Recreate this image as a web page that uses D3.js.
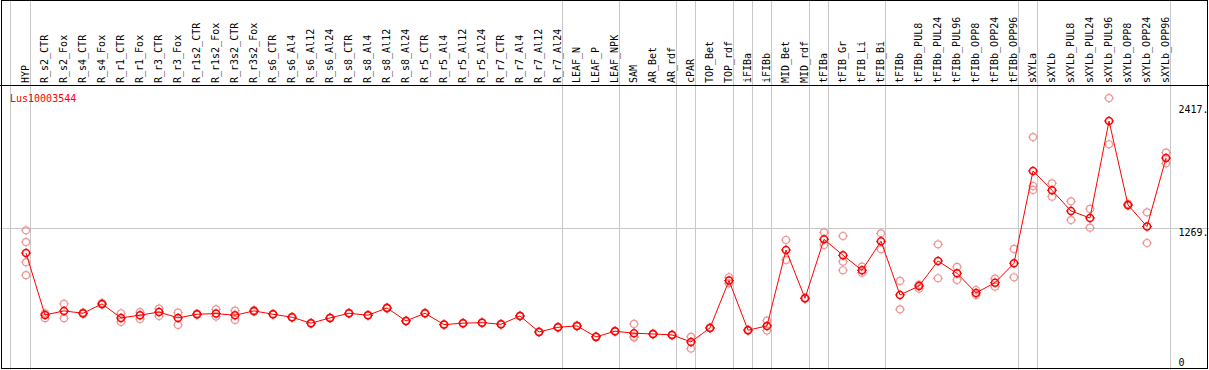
<!DOCTYPE html>
<html>
<head>
<meta charset="utf-8">
<script src="https://cdnjs.cloudflare.com/ajax/libs/d3/7.8.5/d3.min.js"></script>
<style>
body { margin: 0; background: #fff; }
svg { display: block; }
text { font-family: "DejaVu Sans Mono", monospace; font-size: 10px; }
</style>
</head>
<body>
<div id="graphic"></div>
<script>
const geneName = "Lus10003544";

const samples = ["HYP","R_s2_CTR","R_s2_Fox","R_s4_CTR","R_s4_Fox","R_r1_CTR","R_r1_Fox","R_r3_CTR","R_r3_Fox",
    "R_r1s2_CTR","R_r1s2_Fox","R_r3s2_CTR","R_r3s2_Fox","R_s6_CTR","R_s6_Al4","R_s6_Al12","R_s6_Al24",
    "R_s8_CTR","R_s8_Al4","R_s8_Al12","R_s8_Al24","R_r5_CTR","R_r5_Al4","R_r5_Al12","R_r5_Al24",
    "R_r7_CTR","R_r7_Al4","R_r7_Al12","R_r7_Al24","LEAF_N","LEAF_P","LEAF_NPK","SAM","AR_Bet","AR_rdf",
    "cPAR","TOP_Bet","TOP_rdf","iFIBa","iFIBb","MID_Bet","MID_rdf","tFIBa","tFIB_Gr","tFIB_Li","tFIB_Bi",
    "tFIBb","tFIBb_PUL8","tFIBb_PUL24","tFIBb_PUL96","tFIBb_OPP8","tFIBb_OPP24","tFIBb_OPP96",
    "sXYLa","sXYLb","sXYLb_PUL8","sXYLb_PUL24","sXYLb_PUL96","sXYLb_OPP8","sXYLb_OPP24","sXYLb_OPP96"];

// group ends (a grey rule is drawn after these)
const groupEnds = ["HYP","R_r7_Al24","LEAF_NPK","AR_rdf","cPAR","TOP_rdf","iFIBa","iFIBb","MID_rdf",
    "tFIBa","tFIB_Bi","tFIBb_OPP96","sXYLa","sXYLb_OPP96"];

const means = [1039,464,502,480,567,437,462,492,437,471,477,462,502,471,443,388,437,480,462,529,409,
    480,375,388,393,378,455,307,350,363,261,313,295,288,279,214,344,783,323,363,1067,619,
    1166,1018,879,1148,650,733,965,851,669,764,944,1800,1621,1429,1364,2264,1485,1284,1920];

const replicates = [
    [1250,1141,953,833],[480,434],[567,434],[474,486],[575,560],[480,400],[490,427],[523,455],[486,372],
    [466,476],[517,449],[505,418],[510,495],[468,474],[440,446],[385,391],[434,440],
    [477,483],[459,465],[524,534],[406,412],[477,483],[372,378],[385,391],[390,396],
    [375,381],[452,458],[304,310],[347,353],[360,366],[258,264],[310,316],[381,261,255],[285,291],[276,282],
    [261,152],[341,347],[814,758],[320,326],[412,319],[1160,975],[615,623],
    [1231,1114],[1197,959,879],[912,857],[1222,1074],[780,517],[745,708],[1120,805],[910,789],[696,650],[801,727],[1077,814],
    [2115,1661,1624],[1686,1562],[1519,1345],[1448,1274],[2477,2048],[1495,1478],[1417,1132],[1970,1871]];

const tickValues = [0, 1269, 2417];
const tickLabels = ["0", "1269.", "2417."];
const gridTicks = [1269];

const W = 1209, H = 370;
const HEADER_H = 85.5;
const COL_W = 19;
const MARK_R = 3.5;
const MEAN_COLOR = "#ff0000";
const REP_COLOR = "#ee9595";
const GRID_COLOR = "#c8c8c8";

var svg = d3.select("#graphic").append("svg")
    .attr("width", W)
    .attr("height", H)

var x = d3.scaleBand()
    .domain(samples)
    .range([11.5, 11.5 + COL_W * samples.length])

var y = d3.scaleLinear()
    .domain([0, 2417])
    .range([365, 104.5])

function px(d){ return x(d) + 14.5 }

function drawGrid(){
    var seps = [x(samples[0]) - 1].concat(groupEnds.map(d => x(d) + x.step()))
    svg.append("g").attr("class", "vgrid")
        .selectAll("line")
        .data(seps)
        .join("line")
        .attr("x1", d => d).attr("x2", d => d)
        .attr("y1", 0).attr("y2", H)
        .attr("stroke", GRID_COLOR)

    svg.append("g").attr("class", "hgrid")
        .selectAll("line")
        .data(gridTicks)
        .join("line")
        .attr("x1", 0).attr("x2", W)
        .attr("y1", d => Math.round(y(d)) + .5)
        .attr("y2", d => Math.round(y(d)) + .5)
        .attr("stroke", GRID_COLOR)
}

function drawHeader(){
    svg.append("g").attr("class", "labels")
        .selectAll("text")
        .data(samples)
        .join("text")
        .attr("transform", d => `translate(${px(d) + 2.5},83) rotate(-90)`)
        .text(d => d)

    svg.append("text")
        .attr("x", 10)
        .attr("y", 102)
        .attr("fill", MEAN_COLOR)
        .text(geneName)
}

function drawAxis(){
    var clip = svg.append("clipPath").attr("id", "axclip")
    clip.append("rect").attr("x", 0).attr("y", 0).attr("width", 1207).attr("height", H)

    svg.append("g").attr("class", "y axis")
        .attr("clip-path", "url(#axclip)")
        .selectAll("text")
        .data(tickValues)
        .join("text")
        .attr("x", 1178.5)
        .attr("y", d => Math.min(y(d) + 8, 365.5))
        .text((d,i) => tickLabels[i])
}

function marker(g, color, sw){
    g.append("circle")
        .attr("r", MARK_R)
        .attr("fill", "none")
        .attr("stroke", color)
        .attr("stroke-width", sw)
    g.append("path")
        .attr("d", "M0,-5V-3.5M0,3.5V5M-5,0H-3.5M3.5,0H5")
        .attr("stroke", color)
        .attr("stroke-width", 1)
}

function drawData(){
    var reps = []
    samples.forEach((s,i) => replicates[i].forEach(v => reps.push({s: s, v: v})))

    svg.append("g").attr("class", "reps")
        .selectAll("g")
        .data(reps)
        .join("g")
        .attr("transform", d => `translate(${px(d.s)},${y(d.v)})`)
        .each(function(){ marker(d3.select(this), REP_COLOR, 1.2) })

    var line = d3.line()
        .x((d,i) => px(samples[i]))
        .y(d => y(d))

    svg.append("path")
        .datum(means)
        .attr("d", line)
        .attr("fill", "none")
        .attr("stroke", MEAN_COLOR)
        .attr("stroke-width", 1)

    svg.append("g").attr("class", "means")
        .selectAll("g")
        .data(means)
        .join("g")
        .attr("transform", (d,i) => `translate(${px(samples[i])},${y(d)})`)
        .each(function(){ marker(d3.select(this), MEAN_COLOR, 1.5) })
}

function drawFrame(){
    svg.append("line")
        .attr("x1", 0).attr("x2", W)
        .attr("y1", HEADER_H).attr("y2", HEADER_H)
        .attr("stroke", "#000")
    svg.append("rect")
        .attr("x", 1.5).attr("y", .5)
        .attr("width", 1206).attr("height", 368)
        .attr("fill", "none")
        .attr("stroke", "#000")
}

drawGrid()
drawHeader()
drawAxis()
drawData()
drawFrame()
</script>
</body>
</html>
